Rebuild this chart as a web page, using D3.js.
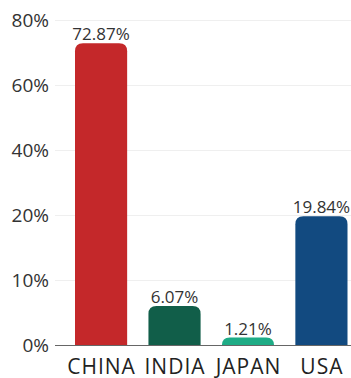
<!DOCTYPE html>
<html>
<head>
<meta charset="utf-8">
<script src="https://cdn.jsdelivr.net/npm/d3@7"></script>
<style>
html,body{margin:0;padding:0;background:#fff;}
svg{display:block;font-family:"Open Sans","Noto Sans",sans-serif;}
</style>
</head>
<body>
<svg id="chart" width="351" height="378"></svg>
<script>
const categories = ["CHINA", "INDIA", "JAPAN", "USA"];
const values = [72.87, 6.07, 1.21, 19.84];
const colors = ["#c4282a", "#115e49", "#1fac86", "#124a80"];
const tickValues = [0, 10, 20, 40, 60, 80];

const svg = d3.select("#chart");
const axisLeft = 55, axisRight = 351;
const yTop = 20, yBottom = 345.5;

// Ticks are evenly spaced on screen (piecewise linear scale)
const y = d3.scaleLinear()
  .domain(tickValues)
  .range(tickValues.map((d, i) => yBottom - i * (yBottom - yTop) / (tickValues.length - 1)));

const x = d3.scaleBand()
  .domain(categories)
  .range([75, 347.5])
  .paddingInner(0.29)
  .paddingOuter(0);

// gridlines
svg.append("g").selectAll("line").data(tickValues.filter(d => d > 0)).join("line")
  .attr("x1", axisLeft).attr("x2", axisRight)
  .attr("y1", d => Math.round(y(d)) + 0.5).attr("y2", d => Math.round(y(d)) + 0.5)
  .attr("stroke", "#efefef").attr("stroke-width", 1);

// y tick labels
svg.append("g").selectAll("text").data(tickValues).join("text")
  .attr("x", 49).attr("y", d => y(d))
  .attr("dy", "0.36em")
  .attr("text-anchor", "end")
  .attr("font-size", 19)
  .attr("fill", "#333")
  .text(d => d + "%");

// bars with rounded top corners
const r = 8;
function barPath(x0, w, yT, yB) {
  const rr = Math.min(r, (yB - yT), w / 2);
  return `M${x0},${yB}V${yT + rr}Q${x0},${yT} ${x0 + rr},${yT}H${x0 + w - rr}Q${x0 + w},${yT} ${x0 + w},${yT + rr}V${yB}Z`;
}
const data = categories.map((c, i) => ({c, v: values[i], col: colors[i]}));
svg.append("g").selectAll("path").data(data).join("path")
  .attr("d", d => barPath(x(d.c), x.bandwidth(), y(d.v), y(0)))
  .attr("fill", d => d.col);

// value labels
svg.append("g").selectAll("text").data(data).join("text")
  .attr("x", d => x(d.c) + x.bandwidth() / 2)
  .attr("y", d => y(d.v) - 3)
  .attr("text-anchor", "middle")
  .attr("font-size", 17)
  .attr("fill", "#333")
  .text(d => d.v.toFixed(2) + "%");

// x axis line
svg.append("line")
  .attr("x1", axisLeft).attr("x2", axisRight)
  .attr("y1", 345.5).attr("y2", 345.5)
  .attr("stroke", "#666").attr("stroke-width", 1);

// category labels
svg.append("g").selectAll("text").data(categories).join("text")
  .attr("x", d => x(d) + x.bandwidth() / 2 + 0.5)
  .attr("y", 374)
  .attr("text-anchor", "middle")
  .attr("font-size", 21)
  .attr("letter-spacing", 1)
  .attr("fill", "#222")
  .text(d => d);
</script>
</body>
</html>
